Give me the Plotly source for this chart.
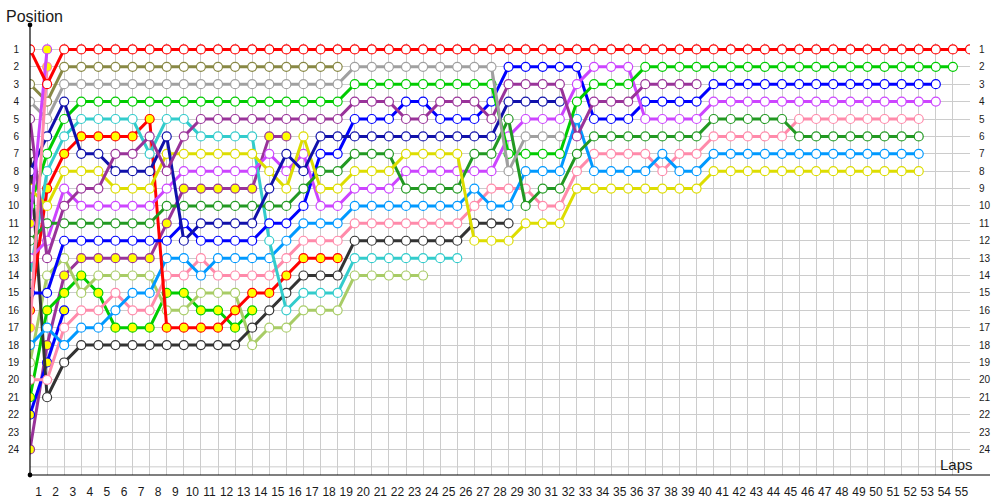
import plotly.graph_objects as go

N = None
# positions per lap (index = lap number, lap 0 = grid)
red1 = [1, 3, 1, 1, 1, 1, 1, 1, 1, 1, 1, 1, 1, 1, 1, 1, 1, 1, 1, 1, 1, 1, 1, 1, 1, 1, 1, 1,
        1, 1, 1, 1, 1, 1, 1, 1, 1, 1, 1, 1, 1, 1, 1, 1, 1, 1, 1, 1, 1, 1, 1, 1, 1, 1, 1, 1]
olive = [3, 4, 2, 2, 2, 2, 2, 2, 2, 2, 2, 2, 2, 2, 2, 2, 2, 2, 2]
gray = [4, 5, 3, 3, 3, 3, 3, 3, 3, 3, 3, 3, 3, 3, 3, 3, 3, 3, 3, 2, 2, 2, 2, 2, 2, 2, 2, 2, 8, 6, 6, 6]
purple1 = [5, 13, 10, 9, 9, 7, 7, 6, 8, 6, 5, 5, 5, 5, 5, 5, 5, 5, 5, 4, 4, 4, 5, 5, 4, 4, 4, 5,
           3, 3, 3, 3, 6, 4, 4, 4, 3, 3, 3, 3]
black = [7, 21, 19, 18, 18, 18, 18, 18, 18, 18, 18, 18, 18, 17, 16, 15, 14, 14, 14, 12, 12, 12, 12,
         12, 12, 12, 11, 11, 11]
navy = [8, 6, 4, 7, 7, 8, 8, 8, 6, 12, 11, 11, 11, 11, 9, 7, 8, 6, 6, 6, 6, 6, 6, 6, 6, 6, 6, 6,
        4, 4, 4, 4]
yellow1 = [9, 10, 8, 8, 8, 9, 9, 9, 7, 7, 7, 7, 7, 7, 8, 9, 6, 9, 9, 8, 8, 8, 7, 7, 7, 7, 12, 12, 12,
           11, 11, 11, 9, 9, 9, 9, 9, 9, 9, 9, 8, 8, 8, 8, 8, 8, 8, 8, 8, 8, 8, 8, 8]
green1 = [10, 7, 5, 4, 4, 4, 4, 4, 4, 4, 4, 4, 4, 4, 4, 4, 4, 4, 4, 3, 3, 3, 3, 3, 3, 3, 3, 3, 7, 7, 7,
          7, 4, 3, 3, 3, 2, 2, 2, 2, 2, 2, 2, 2, 2, 2, 2, 2, 2, 2, 2, 2, 2, 2, 2]
magenta2 = [11, 1]
dkgreen = [12, 11, 11, 11, 11, 11, 11, 11, 10, 10, 10, 10, 10, 10, 10, 10, 9, 8, 8, 7, 7, 7, 9, 9, 9, 9,
           7, 7, 5, 10, 9, 9, 7, 6, 6, 6, 6, 6, 6, 6, 5, 5, 5, 5, 5, 6, 6, 6, 6, 6, 6, 6, 6]
magenta1 = [13, 12, 9, 10, 10, 10, 10, 10, 9, 8, 8, 8, 8, 8, 7, 8, 7, 10, 10, 9, 9, 9, 8, 8, 8, 8, 8, 8,
            6, 5, 5, 5, 3, 2, 2, 2, 5, 5, 5, 5, 4, 4, 4, 4, 4, 4, 4, 4, 4, 4, 4, 4, 4, 4]
cyan = [14, 8, 6, 5, 5, 5, 5, 7, 5, 5, 6, 6, 6, 6, 12, 16, 15, 15, 15, 13, 13, 13, 13, 13, 13, 13]
blue1 = [15, 15, 12, 12, 12, 12, 12, 12, 12, 11, 12, 12, 12, 12, 11, 11, 10, 7, 7, 5, 5, 5, 4, 4, 5, 5,
         5, 4, 2, 2, 2, 2, 2, 5, 5, 5, 4, 4, 4, 4, 3, 3, 3, 3, 3, 3, 3, 3, 3, 3, 3, 3, 3, 3]
red2 = [16, 9, 7, 6, 6, 6, 6, 5, 17, 17, 17, 17, 16, 15, 15, 14, 13, 13, 13]
pink2 = [17, 2]
ltblue = [18, 17, 18, 17, 17, 16, 15, 15, 13, 13, 14, 13, 13, 13, 13, 12, 11, 11, 11, 10, 10, 10, 10, 10,
          10, 10, 9, 10, 10, 8, 8, 8, 5, 8, 8, 8, 8, 7, 8, 8, 7, 7, 7, 7, 7, 7, 7, 7, 7, 7, 7, 7, 7]
ltgreen = [19, 14, 13, 15, 14, 14, 14, 14, 16, 16, 15, 15, 15, 18, 17, 17, 16, 16, 16, 14, 14, 14, 14, 14]
pink1 = [20, 20, 17, 16, 16, 15, 16, 16, 14, 14, 13, 14, 14, 14, 14, 13, 12, 12, 12, 11, 11, 11, 11, 11,
         11, 11, 10, 9, 9, 9, 10, 10, 8, 7, 7, 7, 7, 8, 7, 7, 6, 6, 6, 6, 6, 5, 5, 5, 5, 5, 5, 5, 5]
green2 = [21, 16, 15, 14, 15, 17, 17, 17, 15, 15, 16, 16, 17, 16]
blue2 = [22, 19, 16]
purple2 = [24, 18, 14, 13, 13, 13, 13, 13, 11, 9, 9, 9, 9, 9, 6, 6]

pos_ticks = list(range(1, 25))
lap_ticks = list(range(1, 56))

# (series, line colour, marker fill)
series = [
    (purple2, "#993399", "#ffff00"),
    (blue2, "#0000ff", "#ffff00"),
    (green2, "#00cc00", "#ffff00"),
    (ltgreen, "#a8cc66", "#ffffff"),
    (black, "#333333", "#ffffff"),
    (pink1, "#ff8aaa", "#ffffff"),
    (ltblue, "#0099ff", "#ffffff"),
    (red2, "#ff0000", "#ffff00"),
    (cyan, "#33cccc", "#ffffff"),
    (blue1, "#0000ff", "#ffffff"),
    (magenta1, "#cc44ff", "#ffffff"),
    (dkgreen, "#229922", "#ffffff"),
    (green1, "#00cc00", "#ffffff"),
    (yellow1, "#dddd00", "#ffffff"),
    (navy, "#1111aa", "#ffffff"),
    (purple1, "#993399", "#ffffff"),
    (gray, "#a0a0a0", "#ffffff"),
    (olive, "#888844", "#ffffff"),
    (pink2, "#ff8aaa", "#ffff00"),
    (magenta2, "#cc44ff", "#ffff00"),
    (red1, "#ff0000", "#ffffff"),
]

fig = go.Figure()
for vals, col, fillc in series:
    xs = [i for i, v in enumerate(vals) if v is not None]
    ys = [v for v in vals if v is not None]
    fig.add_trace(go.Scatter(
        x=xs, y=ys, mode="lines+markers",
        line=dict(color=col, width=3),
        marker=dict(symbol="circle", size=9, color=fillc,
                    line=dict(color=col, width=1.2)),
        showlegend=False, hoverinfo="skip"))

# invisible trace to carry the right-hand axis
fig.add_trace(go.Scatter(x=[0], y=[1], yaxis="y2", mode="markers",
                         marker=dict(opacity=0), showlegend=False, hoverinfo="skip"))

YR = [25.47, 0.63]
tickfont = dict(family="Liberation Sans, Arial, sans-serif", size=10, color="#1a1a1a")

fig.update_layout(
    width=1000, height=500,
    margin=dict(l=30, r=30, t=43, b=25, pad=0, autoexpand=False),
    paper_bgcolor="white", plot_bgcolor="white",
    xaxis=dict(
        range=[0, 55], tickmode="array", automargin=False,
        tickvals=[k - 0.5 for k in lap_ticks], ticktext=[str(k) for k in lap_ticks],
        showgrid=False, zeroline=False, showline=False,
        ticks="outside", ticklen=6, tickcolor="rgba(0,0,0,0)",
        tickfont=dict(family="Liberation Sans, Arial, sans-serif", size=12, color="#1a1a1a"),
        minor=dict(tickmode="array", tickvals=lap_ticks, showgrid=True,
                   gridcolor="#cccccc", gridwidth=1, ticks=""),
    ),
    yaxis=dict(
        range=YR, tickmode="array", tickvals=pos_ticks, ticktext=[str(p) for p in pos_ticks],
        automargin=False,
        showgrid=True, gridcolor="#cccccc", gridwidth=1, zeroline=False, showline=False,
        ticks="outside", ticklen=8, tickcolor="rgba(0,0,0,0)", tickfont=tickfont,
    ),
    yaxis2=dict(
        range=YR, overlaying="y", side="right", anchor="x", automargin=False,
        tickmode="array", tickvals=pos_ticks, ticktext=[str(p) for p in pos_ticks],
        showgrid=False, zeroline=False, showline=False,
        ticks="outside", ticklen=6, tickcolor="rgba(0,0,0,0)", tickfont=tickfont,
    ),
    shapes=[
        dict(type="line", xref="x", yref="y", x0=0, x1=55, y0=25, y1=25,
             line=dict(color="#cccccc", width=1), layer="below"),
        dict(type="line", xref="paper", yref="paper", x0=0, x1=0, y0=0, y1=1.0417,
             line=dict(color="black", width=1.2)),
        dict(type="line", xref="paper", yref="paper", x0=0, x1=1.0213, y0=0, y1=0,
             line=dict(color="black", width=1.2)),
        dict(type="circle", xref="paper", yref="paper",
             x0=-0.0025, x1=0.0025, y0=1.0417 - 0.0055, y1=1.0417 + 0.0055,
             fillcolor="black", line=dict(width=0)),
        dict(type="circle", xref="paper", yref="paper",
             x0=-0.0025, x1=0.0025, y0=-0.0055, y1=0.0055,
             fillcolor="black", line=dict(width=0)),
    ],
    annotations=[
        dict(text="Position", xref="paper", yref="paper", x=-0.0277, y=1.0625,
             xanchor="left", yanchor="middle", showarrow=False,
             font=dict(family="Liberation Sans, Arial, sans-serif", size=16, color="#1a1a1a")),
        dict(text="Laps", xref="paper", yref="paper", x=1.0053, y=0.025,
             xanchor="right", yanchor="middle", showarrow=False,
             font=dict(family="Liberation Sans, Arial, sans-serif", size=15, color="#1a1a1a")),
    ],
)

fig.write_html("out.html", config={"displayModeBar": False},
               post_script="document.body.style.margin='0';document.body.style.overflow='hidden';")
